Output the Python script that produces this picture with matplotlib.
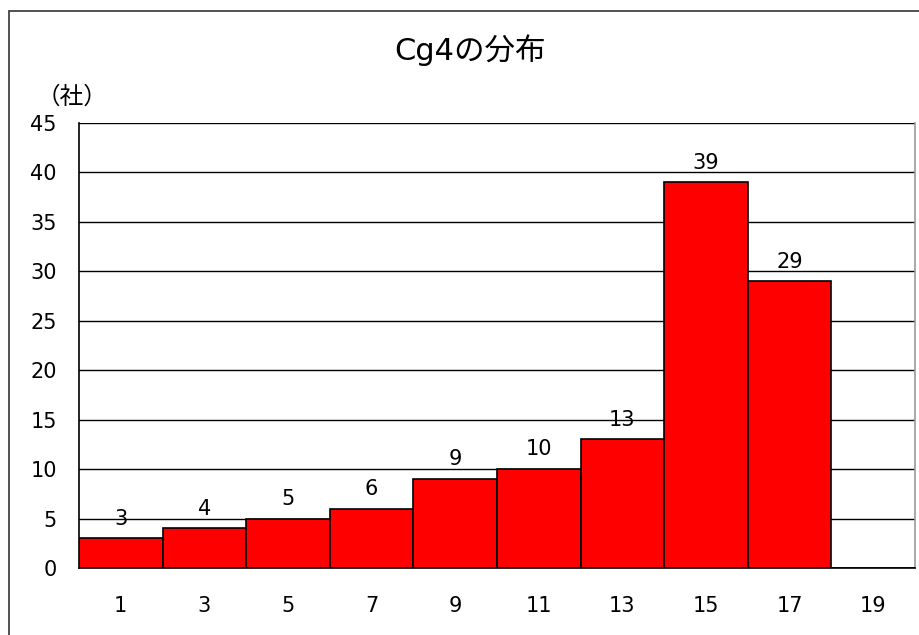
import matplotlib.pyplot as plt
from matplotlib.patches import Rectangle

plt.rcParams['font.family'] = ['DejaVu Sans', 'Noto Sans CJK JP']

categories = ['1', '3', '5', '7', '9', '11', '13', '15', '17', '19']
counts = [3, 4, 5, 6, 9, 10, 13, 39, 29, 0]
yticks = [0, 5, 10, 15, 20, 25, 30, 35, 40, 45]

fig = plt.figure(figsize=(9.19, 6.35), dpi=100)
ax = fig.add_axes([79 / 919, 67 / 635, 836 / 919, 445 / 635])

# outer chart border
fig.patches.append(Rectangle((9 / 919, -0.1), 1.0, (624 / 635) + 0.1, transform=fig.transFigure,
                             fill=False, edgecolor='#333333', linewidth=1.2))

x = range(len(categories))
ax.bar(x, counts, width=1.0, color='#ff0000', edgecolor='black', linewidth=1.2, zorder=3)
for i, v in enumerate(counts):
    if v:
        ax.annotate(str(v), (i, v), xytext=(0, 7), textcoords='offset points',
                    ha='center', va='bottom', fontsize=15)

ax.set_xlim(-0.5, len(categories) - 0.5)
ax.set_ylim(0, 45)
ax.set_yticks(yticks)
ax.set_xticks(list(x))
ax.set_xticklabels(categories)
ax.tick_params(axis='both', length=0, labelsize=15)
ax.tick_params(axis='x', pad=20)
ax.tick_params(axis='y', pad=16)
ax.yaxis.grid(True, color='black', linewidth=1)
ax.set_axisbelow(True)
ax.spines['top'].set_visible(False)
ax.spines['right'].set_color('#999999')
ax.spines['right'].set_linewidth(1.2)
ax.spines['left'].set_linewidth(1.2)
ax.spines['bottom'].set_linewidth(1.2)

fig.text(470 / 919, 1 - 50 / 635, 'Cg4の分布', ha='center', va='center', fontsize=22)
fig.text(72 / 919, 1 - 97 / 635, '（社）', ha='center', va='center', fontsize=17)

fig.savefig('out.png', dpi=100)
